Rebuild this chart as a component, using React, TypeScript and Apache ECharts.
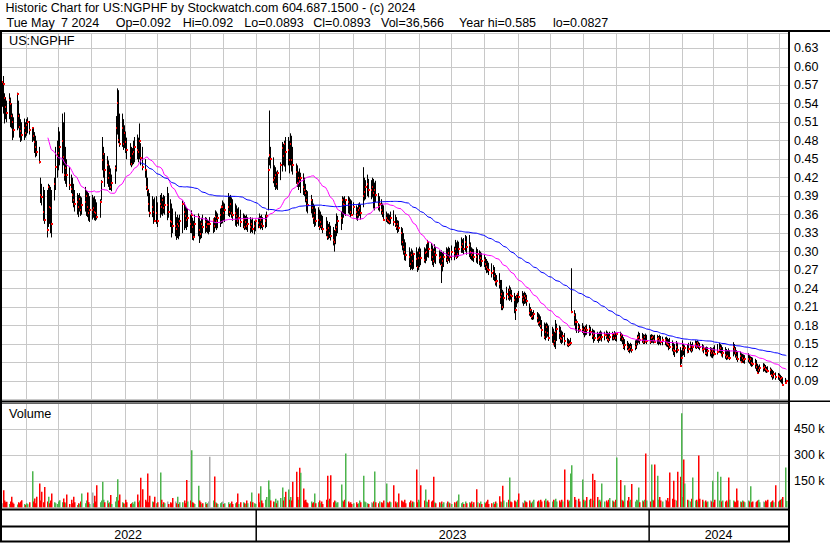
import React, { useEffect, useRef } from "react";
import * as echarts from "echarts";

const FONT = "'Liberation Sans', Arial, Helvetica, sans-serif";
const DAY = 86400000;

const TITLE = "Historic Chart for US:NGPHF by Stockwatch.com 604.687.1500 - (c) 2024";
const QUOTE_FIELDS = ["Tue May", "7 2024", "Op=0.092", "Hi=0.092", "Lo=0.0893", "Cl=0.0893", "Vol=36,566", "Year hi=0.585", "lo=0.0827"];
const SYMBOL = "US:NGPHF";
const VOLUME_TITLE = "Volume";
const YEARS = [2022, 2023, 2024];

// one bar per weekday, first session Mon 2022-05-09, last Tue 2024-05-07
const FIRST_SESSION = new Date(2022, 4, 9, 12).getTime();
const AXIS_MIN = new Date(2022, 4, 8).getTime();
const AXIS_MAX = new Date(2024, 4, 9).getTime();

// prices in thousandths of a dollar (0.575 -> 575), 5 sessions per group (weeks)
const HIGH_MILLI = [
  575,585,557,550,545, 557,550,540,524,518, 558,545,524,515,510, 516,510,515,518,512, 502,500,494,488,480,
  470,420,410,405,400, 400,410,408,405,400, 420,470,480,502,495, 524,510,526,470,450, 437,425,420,410,400,
  395,392,395,390,388, 405,400,398,395,390, 392,388,390,385,380, 385,416,486,470,460, 455,448,440,435,425,
  440,520,565,562,524, 524,515,505,495,485, 476,470,468,480,486, 490,485,508,476,470, 450,432,420,400,395,
  390,385,388,390,380, 392,395,388,392,390, 405,395,385,378,370, 365,356,360,355,360, 383,380,375,372,370,
  360,367,355,350,360, 362,358,350,355,360, 356,355,352,350,356, 354,356,367,365,362, 370,375,383,380,378,
  395,390,392,388,385, 378,375,370,372,368, 362,360,358,360,356, 356,352,355,350,352, 355,362,358,360,356,
  360,365,453,529,470, 453,440,437,430,432, 445,478,475,480,486, 486,480,492,488,470, 443,440,430,435,428,
  427,420,410,400,398, 392,385,378,375,370, 372,368,365,360,358, 356,350,345,348,342, 340,335,345,362,358,
  365,390,388,390,385, 390,388,385,383,380, 375,372,378,380,376, 437,420,416,425,418, 416,420,418,412,415,
  395,390,385,378,375, 365,362,362,360,365, 367,360,356,351,350, 340,338,330,320,315, 307,300,305,302,298,
  307,300,305,308,305, 307,305,312,319,315, 314,310,305,312,308, 302,300,302,298,300, 307,305,308,306,310,
  308,319,315,318,316, 323,320,322,327,325, 327,315,307,305,304, 307,304,302,300,298, 295,291,288,285,282,
  281,278,275,265,262, 265,254,254,238,235, 243,240,245,242,238, 233,228,230,233,236, 236,233,235,233,230,
  216,210,205,202,205, 202,200,198,195,189, 185,183,185,183,180, 178,175,170,189,183, 180,178,172,170,168,
  160,158,156,160,273, 205,200,190,184,182, 184,180,178,180,182, 181,178,175,173,172, 170,168,170,172,170,
  170,172,170,168,170, 170,168,171,169,168, 170,168,166,161,158, 155,152,150,152,150, 156,158,165,170,168,
  168,166,165,167,165, 165,166,165,164,165, 165,163,165,163,162, 161,162,160,158,160, 156,152,150,155,152,
  145,140,156,150,148, 150,152,154,150,153, 156,155,156,154,152, 150,148,145,146,145, 145,144,143,145,148,
  150,152,150,148,145, 145,142,140,143,140, 153,150,145,140,138, 138,135,134,133,132, 135,132,130,129,128,
  126,124,118,115,117, 119,118,116,113,114, 112,110,108,106,104, 103,102,100,98,95, 95,92,
];

const LOW_MILLI = [
  535,524,508,515,510, 515,502,500,481,485, 497,500,485,478,480, 481,485,488,492,490, 478,480,460,453,455,
  443,379,375,350,345, 323,340,345,330,323, 383,400,420,432,440, 427,440,415,410,405, 400,395,379,372,365,
  360,356,365,358,360, 365,358,356,350,348, 352,355,351,350,352, 355,383,432,420,405, 410,405,400,400,398,
  410,430,490,476,470, 470,465,468,460,450, 440,437,440,442,445, 450,445,450,440,432, 420,400,390,365,356,
  356,345,348,345,340, 355,360,358,362,360, 351,355,340,323,330, 325,319,322,320,325, 330,335,338,335,340,
  330,330,319,318,325, 325,314,320,322,330, 330,332,330,328,332, 330,332,338,335,338, 340,345,346,350,348,
  358,356,360,355,350, 342,340,345,342,340, 338,335,336,335,332, 330,332,330,328,333, 338,340,336,338,335,
  338,340,367,440,435, 411,405,400,402,400, 416,430,440,438,430, 440,427,440,430,425, 410,405,400,405,395,
  392,390,380,365,362, 362,355,345,340,342, 340,335,338,335,330, 325,319,320,322,318, 310,300,312,325,330,
  335,345,355,360,358, 362,360,356,358,360, 352,350,355,358,352, 372,383,385,390,388, 385,388,370,367,380,
  367,365,360,356,350, 348,346,345,344,345, 342,340,335,330,332, 310,302,295,286,285, 275,270,272,270,272,
  275,267,270,275,278, 282,281,285,291,290, 285,278,275,282,280, 281,278,249,268,275, 283,280,285,282,286,
  286,291,288,290,292, 298,298,296,300,295, 291,288,286,285,283, 282,280,278,275,276, 275,270,265,266,262,
  258,254,252,245,243, 240,215,205,205,208, 221,222,220,222,218, 200,189,210,216,218, 216,212,215,216,212,
  196,194,190,189,190, 185,180,178,175,162, 158,156,160,162,155, 152,148,145,142,155, 158,152,150,152,148,
  146,145,147,148,200, 180,172,168,168,170, 168,165,161,164,165, 163,164,158,152,155, 155,152,155,156,154,
  156,158,154,152,155, 156,156,157,155,154, 155,154,150,142,140, 140,137,135,138,136, 140,142,148,152,150,
  152,150,150,152,150, 150,152,152,151,152, 150,148,150,148,148, 148,146,145,140,142, 138,132,129,135,136,
  113,118,130,132,129, 135,136,138,136,138, 143,142,144,142,140, 138,135,132,130,130, 130,128,127,130,132,
  133,136,135,130,128, 126,124,125,126,124, 130,133,128,124,121, 122,119,120,119,118, 120,118,115,113,114,
  110,106,103,103,105, 105,106,104,103,104, 100,96,92,94,92, 92,90,88,86,82.7, 86,89.3,
];

const CLOSE_MILLI = [
  575,572,550,534,525, 546,539,520,510,498, 556,520,502,495,489, 500,492,505,510,498, 500,488,478,470,462,
  445,392,388,365,352, 335,405,372,370,345, 410,437,455,460,470, 480,453,424,435,425, 408,402,392,383,378,
  380,372,385,368,375, 380,390,372,362,368, 368,370,364,362,356, 380,413,448,458,432, 440,420,428,405,412,
  435,500,541,481,475, 500,475,492,478,465, 452,443,458,462,470, 465,462,480,452,437, 432,405,400,378,362,
  372,365,350,362,350, 378,372,383,370,375, 375,365,350,348,342, 342,336,345,342,350, 378,365,358,352,355,
  345,360,340,323,345, 356,335,328,345,340, 348,340,345,345,345, 352,342,356,350,355, 360,372,372,362,368,
  372,365,378,362,360, 362,358,350,355,348, 351,340,348,342,345, 340,345,336,342,350, 346,340,352,345,342,
  350,358,432,457,450, 416,420,424,410,428, 440,468,455,475,462, 465,448,475,448,440, 430,411,420,415,420,
  405,400,395,383,375, 383,370,355,362,350, 352,340,348,342,336, 335,324,338,330,325, 319,315,335,340,350,
  355,383,378,375,383, 380,375,365,360,372, 365,360,367,370,362, 390,397,405,410,400, 400,405,395,400,392,
  372,378,367,362,352, 355,351,350,348,355, 348,345,340,345,338, 330,315,307,300,295, 291,280,295,285,296,
  288,275,290,298,290, 286,298,300,315,305, 302,291,285,300,295, 289,292,278,285,291, 291,286,298,292,300,
  298,305,291,296,305, 307,312,305,315,307, 310,300,294,298,292, 291,296,286,290,284, 286,280,275,272,270,
  265,268,260,250,252, 248,226,232,210,225, 232,226,238,230,228, 221,205,226,232,226, 226,221,228,224,220,
  200,205,194,196,198, 192,184,186,180,173, 161,170,178,168,160, 165,150,155,170,175, 168,160,158,163,155,
  150,148,150,152,202, 197,185,185,178,172, 175,170,172,176,172, 175,170,163,166,160, 158,160,162,158,162,
  165,163,158,156,162, 165,160,166,160,166, 161,164,158,145,148, 146,140,142,145,141, 145,150,160,161,156,
  158,153,162,153,155, 153,160,161,156,154, 158,160,156,154,156, 156,152,150,148,146, 145,140,138,145,140,
  114,128,145,140,144, 137,142,145,140,146, 150,145,152,148,145, 140,142,136,135,138, 138,135,138,136,134,
  137,140,143,132,135, 132,129,130,127,128, 145,142,135,129,126, 130,121,128,124,125, 126,122,126,120,118,
  118,112,103,108,111, 111,112,110,108,106, 108,100,98,102,96, 98,96,93,95,84, 87,89.3,
];

// volume in thousands of shares
const VOLUME_K = [
  25,99,40,30,33, 20,35,61,28,22, 17,30,25,35,42, 20,15,25,18,30, 208,35,52,25,61,
  137,40,90,30,118, 35,61,25,40,80, 30,25,20,35,42, 30,52,30,25,75, 20,45,25,61,30,
  15,25,20,35,80, 25,40,86,30,20, 86,25,67,35,128, 30,40,147,45,30, 40,25,30,71,20,
  35,60,162,40,75, 30,25,20,45,30, 20,25,30,20,35, 75,30,40,170,105, 45,35,195,30,67,
  35,30,61,25,30, 200,45,20,30,25, 35,20,30,25,55, 35,25,61,20,30, 30,40,25,157,35,
  40,327,30,25,20, 124,40,30,20,25, 30,20,25,35,290, 40,178,30,25,20, 25,30,35,20,25,
  30,20,25,35,20, 25,30,80,20,30, 30,25,20,40,25, 35,86,30,25,20, 80,30,122,40,25,
  45,60,155,103,40, 35,30,50,25,40, 55,115,40,60,90, 103,45,60,40,147, 204,60,45,227,199,
  109,40,45,30,25, 35,25,30,80,25, 30,40,25,35,20, 45,181,40,50,185, 30,40,35,25,30,
  132,40,35,45,309, 35,25,30,20,25, 30,20,25,40,30, 181,35,30,25,20, 30,25,35,206,30,
  25,35,30,25,40, 137,30,25,35,30, 128,35,25,30,80, 40,35,30,45,25, 30,40,25,35,30,
  218,30,45,35,128, 40,103,35,30,45, 35,40,176,30,25, 30,25,35,20,30, 25,35,30,25,20,
  30,25,35,40,75, 25,30,20,35,25, 30,25,35,20,30, 105,30,25,35,20, 30,25,35,45,20,
  25,30,20,35,25, 65,35,30,124,40, 30,45,172,35,30, 40,35,30,45,80, 30,25,40,35,30,
  40,30,25,35,45, 35,40,30,45,35, 40,50,35,40,30, 35,45,40,50,35, 40,30,45,35,218,
  45,35,40,195,242, 60,45,40,50,35, 160,45,35,40,60, 45,50,193,40,157, 60,40,45,35,137,
  35,40,30,45,55, 40,35,30,45,286, 157,45,40,35,128, 40,60,35,45,134, 35,45,40,115,30,
  40,35,45,309,40, 35,246,45,40,246, 181,45,60,40,35, 45,40,55,35,200, 50,153,45,40,204,
  176,539,60,275,137, 45,40,35,50,172, 40,45,35,298,50, 45,35,40,30,35, 40,35,153,30,45,
  204,40,176,35,40, 35,40,30,172,45, 40,35,30,109,40, 35,30,40,35,30, 40,35,122,30,35,
  30,35,40,45,30, 35,30,40,35,45, 30,35,40,30,128, 35,40,45,50,60, 229,36.566,
];

const MA_FAST = 32; // sessions
const MA_SLOW = 94; // sessions

function sessionTimes(n: number): number[] {
  const out: number[] = [];
  const d = new Date(FIRST_SESSION);
  while (out.length < n) {
    const wd = d.getDay();
    if (wd !== 0 && wd !== 6) out.push(d.getTime());
    d.setDate(d.getDate() + 1);
  }
  return out;
}

function movingAverage(times: number[], values: number[], n: number) {
  const out: number[][] = [];
  let sum = 0;
  for (let i = 0; i < values.length; i++) {
    sum += values[i];
    if (i >= n) sum -= values[i - n];
    if (i >= n - 1) out.push([times[i], sum / n / 1000]);
  }
  return out;
}

export default function App() {
  const ref = useRef<HTMLDivElement>(null);

  useEffect(() => {
    if (!ref.current) return;
    const chart = echarts.init(ref.current, undefined, { renderer: "svg" });

    const n = Math.min(HIGH_MILLI.length, LOW_MILLI.length, CLOSE_MILLI.length, VOLUME_K.length);
    const times = sessionTimes(n);
    const closes = CLOSE_MILLI.slice(0, n);
    const bars = times.map((t, i) => [t, HIGH_MILLI[i] / 1000, LOW_MILLI[i] / 1000, CLOSE_MILLI[i] / 1000]);
    const VOL_COLORS = ["#ff0000", "#4cb44c", "#a8a8a8"];
    const vols = times.map((t, i) => {
      const dir = i === 0 ? 2 : closes[i] > closes[i - 1] ? 1 : closes[i] < closes[i - 1] ? 0 : 2;
      return [t, VOLUME_K[i] * 1000, dir];
    });
    const maFast = movingAverage(times, closes, MA_FAST);
    const maSlow = movingAverage(times, closes, MA_SLOW);

    const yearMid = YEARS.map((y) => {
      const a = Math.max(AXIS_MIN, new Date(y, 0, 1).getTime());
      const b = Math.min(AXIS_MAX, new Date(y + 1, 0, 1).getTime());
      return [(a + b) / 2, 0.5, y];
    });
    const yearStarts = YEARS.slice(1).map((y) => [new Date(y, 0, 1).getTime(), 0.5]);

    const font = (s: number) => `${s}px ${FONT}`;
    const txt = (text: string, x: number, y: number, size = 12.5) => ({
      type: "text",
      x,
      y,
      z: 100,
      silent: true,
      style: { text, fill: "#000", font: font(size), verticalAlign: "middle", textVerticalAlign: "middle" },
    });
    const box = (x: number, y: number, w: number, h: number) => ({
      type: "rect",
      z: 100,
      silent: true,
      shape: { x, y, width: w, height: h },
      style: { fill: "#000" },
    });
    const quoteX = [6.5, 61, 115.7, 182.7, 244.3, 313.3, 381, 459, 553];

    const xAxisBase = (i: number) => ({
      type: "time",
      gridIndex: i,
      min: AXIS_MIN,
      max: AXIS_MAX,
      splitNumber: 24,
      minInterval: 28 * DAY,
      maxInterval: 31 * DAY,
      axisLine: { show: false },
      axisTick: { show: false },
      axisLabel: { show: false },
      splitLine: { show: i < 2, lineStyle: { color: "#c8c8c8", width: 1 } },
    });

    chart.setOption({
      animation: false,
      backgroundColor: "#ffffff",
      textStyle: { fontFamily: FONT },
      grid: [
        { left: 0, top: 33, width: 788, height: 366.5 },
        { left: 0, top: 403, width: 788, height: 104.5 },
        { left: 0, top: 527, width: 788, height: 14 },
      ],
      xAxis: [xAxisBase(0), xAxisBase(1), xAxisBase(2)],
      yAxis: [
        {
          type: "value",
          gridIndex: 0,
          position: "right",
          min: 0.06,
          max: 0.6548,
          interval: 0.03,
          axisLine: { show: false },
          axisTick: { show: false },
          axisLabel: {
            margin: 6,
            color: "#000",
            fontSize: 12.5,
            fontFamily: FONT,
            formatter: (v: number) => (v < 0.085 || v > 0.645 ? "" : v.toFixed(2)),
          },
          splitLine: { lineStyle: { color: "#c8c8c8", width: 1 } },
        },
        {
          type: "value",
          gridIndex: 1,
          position: "right",
          min: 0,
          max: 598000,
          interval: 150000,
          axisLine: { show: false },
          axisTick: { show: false },
          axisLabel: {
            margin: 6,
            color: "#000",
            fontSize: 12.5,
            fontFamily: FONT,
            formatter: (v: number) => (v <= 0 || v > 500000 ? "" : `${Math.round(v / 1000)} k`),
          },
          splitLine: { lineStyle: { color: "#c8c8c8", width: 1 } },
        },
        { type: "value", gridIndex: 2, min: 0, max: 1, show: false },
      ],
      series: [
        {
          type: "line",
          name: "MA fast",
          xAxisIndex: 0,
          yAxisIndex: 0,
          data: maFast,
          showSymbol: false,
          symbol: "none",
          silent: true,
          lineStyle: { color: "#ff00ff", width: 1 },
          z: 3,
        },
        {
          type: "line",
          name: "MA slow",
          xAxisIndex: 0,
          yAxisIndex: 0,
          data: maSlow,
          showSymbol: false,
          symbol: "none",
          silent: true,
          lineStyle: { color: "#0000ff", width: 1 },
          z: 3,
        },
        {
          type: "custom",
          name: "price",
          xAxisIndex: 0,
          yAxisIndex: 0,
          clip: true,
          silent: true,
          z: 2,
          data: bars,
          encode: { x: 0, y: [1, 2, 3] },
          renderItem: (_p: any, api: any) => {
            const t = api.value(0);
            const hi = api.coord([t, api.value(1)]);
            const lo = api.coord([t, api.value(2)]);
            const cl = api.coord([t, api.value(3)]);
            const x = Math.round(hi[0]) + 0.5;
            return {
              type: "group",
              children: [
                {
                  type: "line",
                  shape: { x1: x, y1: hi[1], x2: x, y2: Math.max(lo[1], hi[1] + 1) },
                  style: { stroke: "#000", lineWidth: 1 },
                },
                {
                  type: "rect",
                  shape: { x: x - 0.5, y: Math.round(cl[1]) - 1, width: 2, height: 2 },
                  style: { fill: "#ff0000" },
                },
              ],
            };
          },
        },
        {
          type: "custom",
          name: "volume",
          xAxisIndex: 1,
          yAxisIndex: 1,
          clip: true,
          silent: true,
          data: vols,
          encode: { x: 0, y: 1 },
          renderItem: (_p: any, api: any) => {
            const t = api.value(0);
            const top = api.coord([t, api.value(1)]);
            const base = api.coord([t, 0]);
            const x = Math.round(top[0]);
            return {
              type: "rect",
              shape: { x, y: top[1], width: 1.5, height: base[1] - top[1] },
              style: { fill: VOL_COLORS[api.value(2)] },
            };
          },
        },
        {
          type: "custom",
          name: "years",
          xAxisIndex: 2,
          yAxisIndex: 2,
          clip: false,
          silent: true,
          data: yearMid,
          renderItem: (_p: any, api: any) => {
            const p = api.coord([api.value(0), api.value(1)]);
            return {
              type: "text",
              x: p[0],
              y: 534.5,
              style: {
                text: String(api.value(2)),
                fill: "#000",
                font: font(12.5),
                align: "center",
                textAlign: "center",
                verticalAlign: "middle",
                textVerticalAlign: "middle",
              },
            };
          },
        },
        {
          type: "custom",
          name: "yearDividers",
          xAxisIndex: 2,
          yAxisIndex: 2,
          clip: false,
          silent: true,
          z: 10,
          data: yearStarts,
          renderItem: (_p: any, api: any) => {
            const p = api.coord([api.value(0), api.value(1)]);
            return {
              type: "rect",
              shape: { x: p[0] - 0.75, y: 509, width: 1.5, height: 32 },
              style: { fill: "#000" },
            };
          },
        },
      ],
      graphic: [
        txt(TITLE, 5.5, 8),
        ...QUOTE_FIELDS.map((s, i) => txt(s, quoteX[i], 22.5)),
        txt(SYMBOL, 9, 41, 12.7),
        txt(VOLUME_TITLE, 9, 413.5, 12.7),
        box(0, 30, 830, 2),
        box(0, 30, 2, 512),
        box(788, 30, 2, 512),
        box(0, 400.5, 830, 1.5),
        box(0, 402.5, 790, 1),
        box(0, 508.5, 790, 2),
        box(0, 525.5, 790, 2),
        box(0, 540.5, 790, 2),
      ],
    });

    return () => chart.dispose();
  }, []);

  return (
    <div
      ref={ref}
      style={{ position: "fixed", left: 0, top: 0, width: 830, height: 543, background: "#fff" }}
    />
  );
}
